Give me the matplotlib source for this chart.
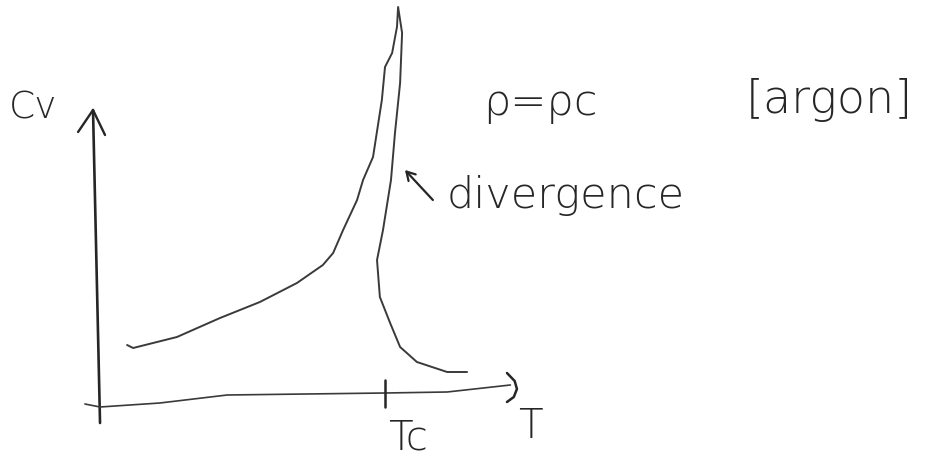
import matplotlib
matplotlib.use("Agg")
import matplotlib.pyplot as plt

# Heat capacity at constant volume along the critical isochore (argon), sketch.
# T in units of Tc, Cv in arbitrary units; the curve rises to a spike at Tc
# and drops back on the far side.
T_vals = [0.095, 0.116, 0.270, 0.421, 0.561, 0.691, 0.782, 0.818, 0.853, 0.902,
          0.923, 0.958, 0.989, 1.000, 1.025, 1.042, 1.046,
          1.060, 1.053, 1.035, 1.021, 1.007, 0.993, 0.972, 0.982, 1.018,
          1.053, 1.112, 1.218, 1.288]
Cv_vals = [0.60, 0.57, 0.68, 0.87, 1.03, 1.22, 1.40, 1.52, 1.75, 2.05,
           2.25, 2.48, 3.05, 3.38, 3.52, 3.78, 3.98,
           3.72, 3.22, 2.72, 2.25, 2.00, 1.75, 1.45, 1.08, 0.82,
           0.58, 0.43, 0.33, 0.33]

x_label = "T"
y_label = "Cv"
tick_label = "Tc"
density_note = "ρ=ρc"
substance_note = "[argon]"
peak_note = "divergence"

ink = "#262626"
pencil = "#3a3a3a"

fig = plt.figure(figsize=(9.33, 4.57), dpi=100)
ax = fig.add_axes([0, 0, 1, 1])
ax.set_xlim(-0.351, 2.923)
ax.set_ylim(-0.52, 4.05)
ax.axis("off")

line_kw = dict(solid_capstyle="round", solid_joinstyle="round")

# vertical (Cv) axis with an open arrow head
ax.plot([0.0, -0.0246], [-0.18, 2.95], color=ink, lw=1.9, **line_kw)
ax.plot([-0.077, -0.0246, 0.0175], [2.73, 2.95, 2.70], color=ink, lw=1.7, **line_kw)

# horizontal (T) axis, slightly wavy, ending in a rounded head
ax.plot([-0.053, 0.0, 0.21, 0.446, 1.0, 1.218, 1.44],
        [0.01, -0.02, 0.02, 0.10, 0.12, 0.13, 0.20], color=pencil, lw=1.2, **line_kw)
ax.plot([1.428, 1.455, 1.463, 1.452, 1.428],
        [0.32, 0.24, 0.16, 0.08, 0.03], color=ink, lw=1.8, **line_kw)

# tick at the critical temperature
ax.plot([1.0, 1.0], [-0.02, 0.25], color=ink, lw=1.8, **line_kw)

# data curve
ax.plot(T_vals, Cv_vals, color=pencil, lw=1.4, **line_kw)

text_kw = dict(color=ink, family="DejaVu Sans", fontweight="light")
ax.text(-0.235, 2.97, y_label, ha="center", va="center", fontsize=27, **text_kw)
ax.text(1.081, -0.33, tick_label, ha="center", va="center", fontsize=29, **text_kw)
ax.text(1.509, -0.21, x_label, ha="center", va="center", fontsize=29, **text_kw)
ax.text(1.344, 3.02, density_note, ha="left", va="center", fontsize=31, **text_kw)
ax.text(2.558, 3.05, substance_note, ha="center", va="center", fontsize=33, **text_kw)

# arrow pointing at the spike, with its label
ax.annotate("", xy=(1.070, 2.35), xytext=(1.168, 2.05),
            arrowprops=dict(arrowstyle="->,head_length=0.6,head_width=0.35",
                            color=ink, lw=1.6, shrinkA=0, shrinkB=0))
ax.text(1.218, 2.10, peak_note, ha="left", va="center", fontsize=31, **text_kw)

fig.savefig("out.png", dpi=100, facecolor="white")
